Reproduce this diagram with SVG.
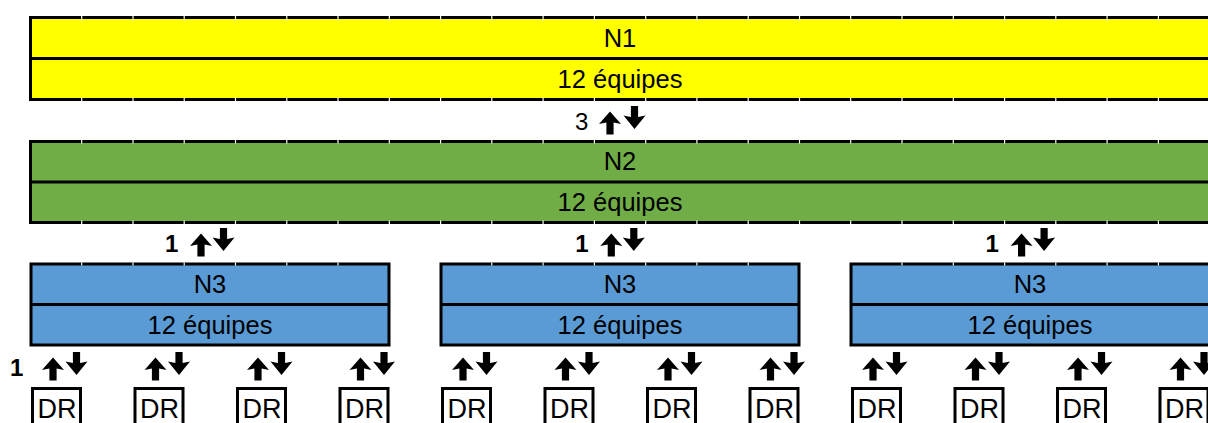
<svg xmlns="http://www.w3.org/2000/svg" xmlns:xlink="http://www.w3.org/1999/xlink" width="1208" height="423" viewBox="0 0 1208 423">
<style>
.box{stroke:#000;stroke-width:3}
.div{stroke:#000;stroke-width:3}
.n1{fill:#FFFF00}
.n2{fill:#70AD47}
.n3{fill:#5B9BD5}
.dr{fill:#fff;stroke:#000;stroke-width:3}
.t{font-family:"Liberation Sans",Arial,sans-serif;font-size:25.5px;text-anchor:middle;fill:#000}
.td{font-family:"Liberation Sans",Arial,sans-serif;font-size:27px;text-anchor:middle;fill:#000}
.num{font-family:"Liberation Sans",Arial,sans-serif;font-size:24px;font-weight:bold;fill:#000}
.num3{font-family:"Liberation Sans",Arial,sans-serif;font-size:24px;fill:#000}
.tick{stroke:#fff;stroke-width:1.2}
.arr{fill:#000}
</style>
<defs>
<path id="up" class="arr" d="M0,-0.5 L11,12 L3.6,10.5 L3.6,22.5 L-3.6,22.5 L-3.6,10.5 L-11,12 Z"/>
<path id="down" class="arr" d="M-3.6,0 L3.6,0 L3.6,11 L11,9.5 L0,23 L-11,9.5 L-3.6,11 Z"/>
</defs>
<rect width="1208" height="423" fill="#fff"/>

<g id="N1">
<rect class="box n1" x="30.5" y="17.5" width="1180" height="82"/>
<line class="div" x1="30.5" y1="58.5" x2="1210.5" y2="58.5"/>
<text class="t" x="620" y="46.5">N1</text>
<text class="t" x="620" y="87.5">12 équipes</text>
</g>

<g id="N2">
<rect class="box n2" x="30.5" y="141.5" width="1180" height="81"/>
<line class="div" x1="30.5" y1="182" x2="1210.5" y2="182"/>
<text class="t" x="620" y="170">N2</text>
<text class="t" x="620" y="211">12 équipes</text>
</g>

<g id="N3a">
<rect class="box n3" x="31" y="264" width="358" height="81"/>
<line class="div" x1="31" y1="304.5" x2="389" y2="304.5"/>
<text class="t" x="210" y="292.5">N3</text>
<text class="t" x="210" y="333.5">12 équipes</text>
</g>
<g id="N3b">
<rect class="box n3" x="441" y="264" width="358" height="81"/>
<line class="div" x1="441" y1="304.5" x2="799" y2="304.5"/>
<text class="t" x="620" y="292.5">N3</text>
<text class="t" x="620" y="333.5">12 équipes</text>
</g>
<g id="N3c">
<rect class="box n3" x="851" y="264" width="362" height="81"/>
<line class="div" x1="851" y1="304.5" x2="1213" y2="304.5"/>
<text class="t" x="1030" y="292.5">N3</text>
<text class="t" x="1030" y="333.5">12 équipes</text>
</g>

<g id="DR">
<g id="dr1"><rect class="dr" x="32.5" y="388.5" width="48" height="45"/><text class="td" x="57" y="418">DR</text></g>
<g id="dr2"><rect class="dr" x="135" y="388.5" width="48" height="45"/><text class="td" x="159.5" y="418">DR</text></g>
<g id="dr3"><rect class="dr" x="237.5" y="388.5" width="48" height="45"/><text class="td" x="262" y="418">DR</text></g>
<g id="dr4"><rect class="dr" x="340" y="388.5" width="48" height="45"/><text class="td" x="364.5" y="418">DR</text></g>
<g id="dr5"><rect class="dr" x="442.5" y="388.5" width="48" height="45"/><text class="td" x="467" y="418">DR</text></g>
<g id="dr6"><rect class="dr" x="545" y="388.5" width="48" height="45"/><text class="td" x="569.5" y="418">DR</text></g>
<g id="dr7"><rect class="dr" x="647.5" y="388.5" width="48" height="45"/><text class="td" x="672" y="418">DR</text></g>
<g id="dr8"><rect class="dr" x="750" y="388.5" width="48" height="45"/><text class="td" x="774.5" y="418">DR</text></g>
<g id="dr9"><rect class="dr" x="852.5" y="388.5" width="48" height="45"/><text class="td" x="877" y="418">DR</text></g>
<g id="dr10"><rect class="dr" x="955" y="388.5" width="48" height="45"/><text class="td" x="979.5" y="418">DR</text></g>
<g id="dr11"><rect class="dr" x="1057.5" y="388.5" width="48" height="45"/><text class="td" x="1082" y="418">DR</text></g>
<g id="dr12"><rect class="dr" x="1160" y="388.5" width="48" height="45"/><text class="td" x="1184.5" y="418">DR</text></g>
</g>

<g id="ticks">
<path class="tick" d="M81.7,15.5v5 M133,15.5v5 M184.2,15.5v5 M235.5,15.5v5 M286.8,15.5v5 M338,15.5v5 M389.3,15.5v5 M440.6,15.5v5 M491.8,15.5v5 M543.1,15.5v5 M594.4,15.5v5 M645.7,15.5v5 M696.9,15.5v5 M748.2,15.5v5 M799.5,15.5v5 M850.7,15.5v5 M902,15.5v5 M953.3,15.5v5 M1004.6,15.5v5 M1055.8,15.5v5 M1107.1,15.5v5 M1158.4,15.5v5"/>
<path class="tick" d="M81.7,97.5v5 M133,97.5v5 M184.2,97.5v5 M235.5,97.5v5 M286.8,97.5v5 M338,97.5v5 M389.3,97.5v5 M440.6,97.5v5 M491.8,97.5v5 M543.1,97.5v5 M594.4,97.5v5 M645.7,97.5v5 M696.9,97.5v5 M748.2,97.5v5 M799.5,97.5v5 M850.7,97.5v5 M902,97.5v5 M953.3,97.5v5 M1004.6,97.5v5 M1055.8,97.5v5 M1107.1,97.5v5 M1158.4,97.5v5"/>
<path class="tick" d="M81.7,139.5v4 M133,139.5v4 M184.2,139.5v4 M235.5,139.5v4 M286.8,139.5v4 M338,139.5v4 M389.3,139.5v4 M440.6,139.5v4 M491.8,139.5v4 M543.1,139.5v4 M594.4,139.5v4 M645.7,139.5v4 M696.9,139.5v4 M748.2,139.5v4 M799.5,139.5v4 M850.7,139.5v4 M902,139.5v4 M953.3,139.5v4 M1004.6,139.5v4 M1055.8,139.5v4 M1107.1,139.5v4 M1158.4,139.5v4"/>
<path class="tick" d="M81.7,220.5v4 M133,220.5v4 M184.2,220.5v4 M235.5,220.5v4 M286.8,220.5v4 M338,220.5v4 M389.3,220.5v4 M440.6,220.5v4 M491.8,220.5v4 M543.1,220.5v4 M594.4,220.5v4 M645.7,220.5v4 M696.9,220.5v4 M748.2,220.5v4 M799.5,220.5v4 M850.7,220.5v4 M902,220.5v4 M953.3,220.5v4 M1004.6,220.5v4 M1055.8,220.5v4 M1107.1,220.5v4 M1158.4,220.5v4"/>
<path class="tick" d="M81.7,262.5v3 M133,262.5v3 M184.2,262.5v3 M235.5,262.5v3 M286.8,262.5v3 M338,262.5v3 M491.8,262.5v3 M543.1,262.5v3 M594.4,262.5v3 M645.7,262.5v3 M696.9,262.5v3 M748.2,262.5v3 M902,262.5v3 M953.3,262.5v3 M1004.6,262.5v3 M1055.8,262.5v3 M1107.1,262.5v3 M1158.4,262.5v3"/>
</g>

<g id="connectors">
<text class="num3" x="575" y="130">3</text>
<use xlink:href="#up" x="610" y="112"/>
<use xlink:href="#down" x="634.5" y="106"/>

<text class="num" x="165" y="252">1</text>
<use xlink:href="#up" x="201" y="234"/>
<use xlink:href="#down" x="223.5" y="228"/>
<text class="num" x="575.3" y="252">1</text>
<use xlink:href="#up" x="611.3" y="234"/>
<use xlink:href="#down" x="633.8" y="228"/>
<text class="num" x="985.6" y="252">1</text>
<use xlink:href="#up" x="1021.6" y="234"/>
<use xlink:href="#down" x="1044.1" y="228"/>

<text class="num" x="10" y="376">1</text>
<use xlink:href="#up" x="53" y="358"/><use xlink:href="#down" x="76.5" y="352"/>
<use xlink:href="#up" x="155.5" y="358"/><use xlink:href="#down" x="179" y="352"/>
<use xlink:href="#up" x="258" y="358"/><use xlink:href="#down" x="281.5" y="352"/>
<use xlink:href="#up" x="360.5" y="358"/><use xlink:href="#down" x="384" y="352"/>
<use xlink:href="#up" x="463" y="358"/><use xlink:href="#down" x="486.5" y="352"/>
<use xlink:href="#up" x="565.5" y="358"/><use xlink:href="#down" x="589" y="352"/>
<use xlink:href="#up" x="668" y="358"/><use xlink:href="#down" x="691.5" y="352"/>
<use xlink:href="#up" x="770.5" y="358"/><use xlink:href="#down" x="794" y="352"/>
<use xlink:href="#up" x="873" y="358"/><use xlink:href="#down" x="896.5" y="352"/>
<use xlink:href="#up" x="975.5" y="358"/><use xlink:href="#down" x="999" y="352"/>
<use xlink:href="#up" x="1078" y="358"/><use xlink:href="#down" x="1101.5" y="352"/>
<use xlink:href="#up" x="1180.5" y="358"/><use xlink:href="#down" x="1204" y="352"/>
</g>
</svg>
